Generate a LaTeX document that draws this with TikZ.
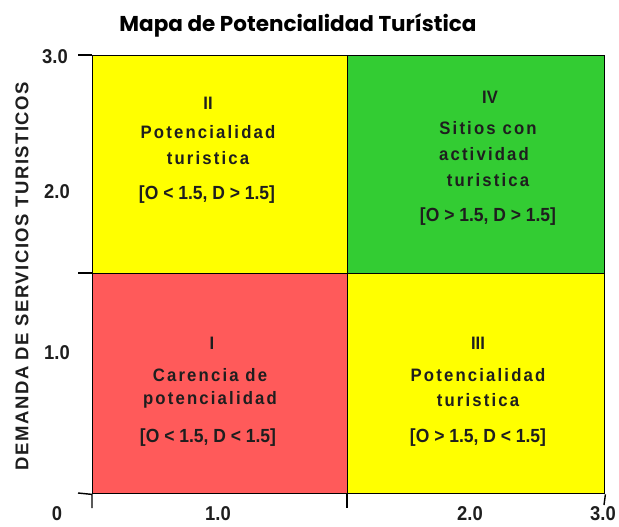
\documentclass[tikz,border=0pt]{standalone}
\usepackage{fontspec}
\setmainfont{Liberation Sans}
\newfontfamily\spacedfont[LetterSpace=12,FakeStretch=0.93]{Liberation Sans}
\newfontfamily\narrowfont[FakeStretch=0.92]{Liberation Sans}
\newfontfamily\axisfont[LetterSpace=8]{Liberation Sans}
\newfontfamily\titlefont{Poppins}
\usepackage{xcolor}
\usetikzlibrary{positioning}
\definecolor{quadyellow}{HTML}{FFFF00}
\definecolor{quadgreen}{HTML}{33CC33}
\definecolor{quadred}{HTML}{FF5A5A}
\definecolor{inkgray}{HTML}{1E1E1E}

\begin{document}
\begin{tikzpicture}[x=1pt,y=-1pt,
		    quad/.style={draw=black,line width=1.4pt,inner sep=0pt,anchor=north west},
		    numeral/.style={font=\narrowfont\bfseries\fontsize{18}{20}\selectfont,text=inkgray},
		    name text/.style={font=\spacedfont\bfseries\fontsize{18}{20}\selectfont,text=inkgray},
		    range text/.style={font=\narrowfont\bfseries\fontsize{19}{21}\selectfont,text=inkgray},
		    tick label/.style={font=\narrowfont\bfseries\fontsize{20}{22}\selectfont,text=inkgray,inner sep=1pt},
		    axis line/.style={draw=black,line width=1.4pt}]
			\useasboundingbox (0,0) rectangle (619,527);
			% Title
			  \node[font=\titlefont\bfseries\fontsize{21.5}{26}\selectfont] (title) at (298,25) {Mapa de Potencialidad Turística};
			
			% Quadrants
			  \node[quad,fill=quadyellow,minimum width=255pt,minimum height=218pt] (qII) at (92,55) {};
			  \node[quad,fill=quadgreen,minimum width=257pt,minimum height=218pt] (qIV) at (347,55) {};
			  \node[quad,fill=quadred,minimum width=255pt,minimum height=220pt] (qI) at (92,273) {};
			  \node[quad,fill=quadyellow,minimum width=257pt,minimum height=220pt] (qIII) at (347,273) {};
			
			% Quadrant II
			  \node[numeral] (nII) at (208,103) {II};
			  \node[name text] (potII) at (208,132) {Potencialidad};
			  \node[name text] (turII) at (208,158) {turistica};
			  \node[range text] (rII) at (207,195) {[O < 1.5, D > 1.5]};
			
			% Quadrant IV
			  \node[numeral] (nIV) at (490,97) {IV};
			  \node[name text] (sitIV) at (488,128) {Sitios con};
			  \node[name text] (actIV) at (484,154) {actividad};
			  \node[name text] (turIV) at (488,180) {turistica};
			  \node[range text] (rIV) at (488,217) {[O > 1.5, D > 1.5]};
			
			% Quadrant I
			  \node[numeral] (nI) at (212,343) {I};
			  \node[name text] (carI) at (210,375) {Carencia de};
			  \node[name text] (potI) at (210,400) {potencialidad};
			  \node[range text] (rI) at (208,438) {[O < 1.5, D < 1.5]};
			
			% Quadrant III
			  \node[numeral] (nIII) at (478,343) {III};
			  \node[name text] (potIII) at (478,375) {Potencialidad};
			  \node[name text] (turIII) at (478,400) {turistica};
			  \node[range text] (rIII) at (478,438) {[O > 1.5, D < 1.5]};
			
			% Axes
			  \draw[axis line] (78,55) -- (qII.north west);
			  \draw[axis line] (78,273) -- (qI.north west);
			  \draw[axis line] (78,493) -- (qI.south west) -- (92,508);
			  \draw[axis line] (qIII.south west) -- (347,508);
			  \draw[axis line] (qIII.south east) -- (604,505);
			
			% Axis labels
			  \node[tick label] (y3) at (55,57) {3.0};
			  \node[tick label] (y2) at (57,192) {2.0};
			  \node[tick label] (y1) at (57,353) {1.0};
			  \node[tick label] (x0) at (57,514) {0};
			  \node[tick label] (x1) at (218,514) {1.0};
			  \node[tick label] (x2) at (470,514) {2.0};
			  \node[tick label] (x3) at (603,514) {3.0};
			  \node[font=\axisfont\bfseries\fontsize{18.5}{20}\selectfont,text=inkgray,rotate=90] (ylabel) at (22,276) {DEMANDA DE SERVICIOS TURISTICOS};
			\end{tikzpicture}
\end{document}
